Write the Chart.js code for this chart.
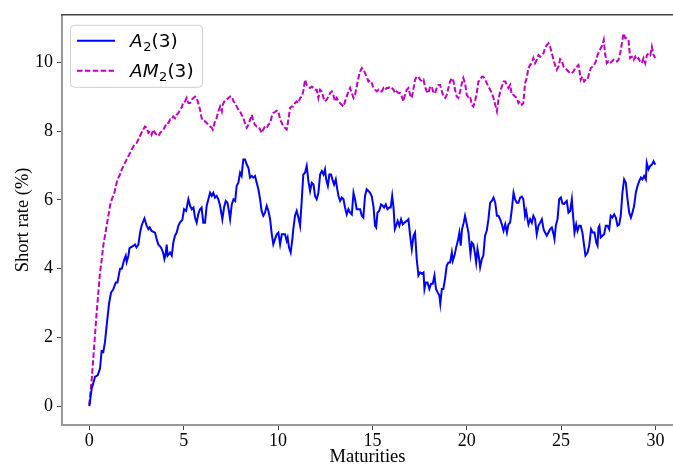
<!DOCTYPE html>
<html>
<head>
<meta charset="utf-8">
<script src="https://cdn.jsdelivr.net/npm/chart.js@4/dist/chart.umd.min.js"></script>
<style>
  html, body { margin: 0; padding: 0; background: #ffffff; }
  #wrap { width: 673px; height: 468px; position: relative; }
</style>
</head>
<body>
<div id="wrap"><canvas id="c" width="673" height="468"></canvas></div>
<script>
// ---- data ----
const maturitiesA = [0,0.125,0.3,0.45,0.57,0.65,0.74,0.83,0.92,1.05,1.15,1.27,1.4,1.49,1.63,1.72,1.86,1.93,1.98,2.07,2.13,2.33,2.42,2.5,2.6,2.69,2.77,2.92,3.04,3.13,3.2,3.3,3.48,3.57,3.66,3.75,3.84,3.92,3.98,4.04,4.1,4.15,4.28,4.37,4.45,4.54,4.63,4.72,4.8,4.93,5.02,5.13,5.25,5.34,5.43,5.52,5.6,5.69,5.77,5.87,5.95,6.04,6.13,6.22,6.31,6.4,6.49,6.57,6.66,6.75,6.84,6.93,7.05,7.14,7.23,7.32,7.41,7.46,7.55,7.64,7.73,7.81,7.9,7.99,8.07,8.16,8.25,8.34,8.43,8.52,8.61,8.69,8.78,8.87,8.96,9.05,9.13,9.22,9.31,9.4,9.49,9.58,9.67,9.75,9.84,9.93,10.02,10.11,10.2,10.28,10.37,10.46,10.51,10.58,10.67,10.76,10.81,10.9,10.99,11.08,11.17,11.26,11.34,11.43,11.52,11.61,11.7,11.79,11.88,11.96,12.05,12.14,12.23,12.32,12.41,12.49,12.55,12.64,12.72,12.81,12.88,12.97,13.06,13.11,13.2,13.29,13.38,13.47,13.55,13.64,13.73,13.82,13.91,14.0,14.08,14.17,14.26,14.35,14.44,14.52,14.61,14.7,14.79,14.88,14.97,15.06,15.14,15.2,15.27,15.36,15.46,15.55,15.62,15.71,15.8,15.89,15.97,16.05,16.12,16.19,16.26,16.34,16.43,16.52,16.61,16.7,16.82,16.91,17.0,17.09,17.18,17.26,17.35,17.44,17.53,17.62,17.71,17.76,17.83,17.92,18.02,18.11,18.2,18.29,18.37,18.46,18.55,18.6,18.68,18.76,18.85,18.94,19.03,19.12,19.21,19.26,19.35,19.44,19.53,19.61,19.68,19.75,19.84,19.91,20.0,20.09,20.2,20.27,20.35,20.44,20.5,20.57,20.66,20.71,20.8,20.88,20.97,21.06,21.15,21.24,21.33,21.42,21.51,21.6,21.68,21.77,21.86,21.95,22.04,22.13,22.21,22.3,22.39,22.48,22.56,22.65,22.74,22.83,22.92,23.0,23.09,23.15,23.22,23.27,23.36,23.45,23.53,23.62,23.71,23.8,23.89,23.98,24.07,24.15,24.24,24.33,24.42,24.51,24.6,24.65,24.72,24.81,24.9,24.99,25.07,25.16,25.21,25.3,25.39,25.48,25.57,25.62,25.71,25.8,25.87,25.96,26.04,26.13,26.22,26.29,26.4,26.49,26.59,26.68,26.77,26.86,26.93,26.98,27.03,27.1,27.19,27.28,27.37,27.46,27.55,27.63,27.72,27.81,27.9,27.99,28.08,28.16,28.25,28.34,28.43,28.52,28.61,28.7,28.78,28.87,28.96,29.05,29.14,29.23,29.31,29.4,29.49,29.54,29.63,29.72,29.81,29.9,29.99];
const shortRateA2 = [0,0.5,0.85,0.9,1.1,1.6,1.57,1.86,2.35,3.0,3.3,3.4,3.6,3.6,4.0,4.0,4.28,4.38,4.2,4.37,4.6,4.66,4.7,4.62,4.7,5.05,5.25,5.46,5.25,5.15,5.2,5.1,5.05,4.86,4.7,4.65,4.57,4.45,4.28,4.4,4.7,4.38,4.47,4.38,4.76,4.96,5.05,5.25,5.34,5.42,5.73,5.68,6.02,5.83,5.73,5.78,5.49,5.34,5.58,5.73,5.78,5.34,5.34,5.83,6.02,6.21,6.12,6.21,6.07,6.12,6.02,5.83,5.44,5.78,5.97,5.92,5.63,5.44,5.87,6.02,5.97,6.41,6.5,6.79,6.7,7.18,7.18,7.03,6.94,6.65,6.7,6.65,6.7,6.5,6.31,6.02,5.68,5.54,5.63,5.83,5.68,5.44,5.0,4.71,4.86,5.0,5.05,4.71,5.0,5.0,5.0,4.81,4.9,4.62,4.47,4.86,5.15,5.54,5.68,5.49,5.25,6.02,6.74,6.79,6.99,6.55,6.26,6.5,6.45,6.12,6.02,6.21,6.74,6.84,6.74,6.89,6.6,6.41,6.74,6.74,6.6,6.45,6.6,6.41,6.12,5.97,6.07,6.02,5.78,5.58,5.73,5.63,5.58,6.21,6.02,5.73,5.73,5.73,5.54,5.49,6.12,6.31,6.26,6.21,6.1,5.8,5.25,5.2,5.63,5.68,5.87,5.83,5.78,5.87,5.73,5.78,5.78,6.12,5.78,5.15,5.25,5.39,5.25,5.44,5.29,5.34,5.39,5.44,4.96,4.57,4.96,5.05,4.28,3.8,3.89,3.85,3.89,3.41,3.6,3.6,3.41,3.56,3.56,3.8,3.41,3.31,3.22,2.98,3.41,3.41,3.7,4.09,4.18,4.18,4.47,4.23,4.38,4.62,4.81,5.05,4.67,5.15,5.34,5.54,5.3,5.05,4.43,4.76,4.71,4.43,4.18,4.57,4.28,4.04,4.28,4.38,4.96,5.1,5.44,5.92,5.97,6.07,5.92,5.54,5.54,5.44,5.29,5.1,5.29,5.05,5.29,5.34,5.73,6.21,6.02,5.92,5.92,6.07,6.1,6.02,5.54,5.68,5.44,5.29,5.44,5.34,5.54,5.44,5.0,5.25,5.34,5.44,5.15,5.05,4.96,5.05,5.15,5.2,5.0,4.86,5.25,5.44,6.02,6.07,5.9,5.88,5.92,5.97,5.63,5.68,6.02,5.63,5.05,5.29,5.1,5.25,5.25,5.05,4.67,4.38,4.47,4.67,5.15,5.05,5.05,4.76,4.67,5.2,5.25,4.91,4.96,5.0,5.25,5.25,5.15,5.54,5.49,5.58,5.49,5.25,5.29,5.54,6.21,6.6,6.5,6.02,5.63,5.49,5.63,5.83,6.21,6.41,6.55,6.65,6.6,6.7,6.6,7.08,6.89,6.99,7.03,7.13,7.03];

const maturitiesAM = [0,0.13,0.21,0.3,0.39,0.48,0.57,0.66,0.74,0.83,0.92,1.01,1.1,1.19,1.33,1.45,1.54,1.63,1.72,1.81,1.89,1.98,2.07,2.16,2.25,2.34,2.42,2.51,2.6,2.69,2.78,2.86,2.95,3.04,3.13,3.22,3.3,3.39,3.48,3.57,3.66,3.75,3.84,3.93,4.01,4.1,4.19,4.28,4.37,4.45,4.54,4.63,4.72,4.81,4.9,4.98,5.07,5.16,5.25,5.34,5.43,5.52,5.6,5.69,5.77,5.87,5.95,6.04,6.13,6.22,6.31,6.4,6.49,6.54,6.61,6.66,6.75,6.84,6.93,7.02,7.07,7.16,7.28,7.37,7.46,7.55,7.64,7.73,7.81,7.9,7.99,8.07,8.16,8.25,8.34,8.43,8.52,8.61,8.69,8.78,8.87,8.96,9.05,9.13,9.22,9.31,9.4,9.49,9.58,9.67,9.75,9.84,9.93,10.02,10.11,10.2,10.28,10.37,10.46,10.55,10.64,10.73,10.81,10.9,10.99,11.08,11.17,11.26,11.34,11.43,11.52,11.61,11.7,11.79,11.88,11.96,12.05,12.14,12.23,12.32,12.41,12.49,12.58,12.67,12.76,12.85,12.93,13.02,13.11,13.2,13.29,13.38,13.47,13.55,13.64,13.73,13.82,13.91,14.0,14.08,14.17,14.26,14.35,14.44,14.52,14.61,14.7,14.79,14.88,14.97,15.06,15.14,15.23,15.32,15.41,15.5,15.59,15.67,15.76,15.85,15.94,16.03,16.12,16.2,16.29,16.38,16.47,16.56,16.64,16.73,16.82,16.91,17.0,17.09,17.17,17.26,17.35,17.44,17.53,17.62,17.71,17.79,17.88,17.97,18.06,18.15,18.24,18.32,18.41,18.5,18.59,18.68,18.77,18.86,18.94,19.03,19.12,19.21,19.3,19.38,19.47,19.56,19.65,19.74,19.82,19.91,20.0,20.09,20.18,20.27,20.35,20.44,20.53,20.62,20.71,20.8,20.88,20.97,21.06,21.15,21.24,21.33,21.42,21.51,21.6,21.68,21.77,21.86,21.95,22.04,22.13,22.21,22.3,22.39,22.48,22.56,22.65,22.74,22.83,22.92,23.0,23.09,23.18,23.27,23.36,23.45,23.53,23.62,23.71,23.8,23.89,23.98,24.07,24.15,24.24,24.33,24.42,24.51,24.6,24.68,24.77,24.86,24.95,25.04,25.13,25.21,25.3,25.39,25.48,25.57,25.66,25.74,25.83,25.92,25.97,26.04,26.13,26.22,26.31,26.4,26.49,26.57,26.66,26.75,26.84,26.93,27.02,27.1,27.19,27.26,27.33,27.42,27.51,27.6,27.69,27.78,27.87,27.96,28.04,28.13,28.22,28.31,28.4,28.48,28.57,28.66,28.75,28.84,28.93,29.01,29.1,29.19,29.28,29.37,29.46,29.55,29.64,29.73,29.81,29.9,29.99];
const shortRateAM2 = [0.03,0.8,1.38,2.06,2.73,3.31,3.89,4.28,4.67,4.96,5.25,5.54,5.83,6.02,6.21,6.5,6.65,6.74,6.89,6.99,7.08,7.18,7.28,7.37,7.47,7.57,7.61,7.66,7.76,7.86,7.97,8.05,8.14,8.1,7.95,8.0,7.9,8.05,7.95,7.9,7.86,7.95,8.0,8.05,8.14,8.24,8.24,8.34,8.34,8.43,8.38,8.48,8.53,8.63,8.7,8.85,8.87,8.97,8.82,8.82,8.92,8.97,9.01,8.97,8.82,8.63,8.39,8.29,8.29,8.24,8.19,8.14,8.1,8.05,8.19,8.29,8.39,8.58,8.72,8.58,8.77,8.87,8.92,8.97,9.01,9.01,8.87,8.82,8.72,8.63,8.58,8.48,8.39,8.24,8.1,8.19,8.34,8.48,8.29,8.19,8.14,8.14,8.05,7.95,8.05,8.14,8.1,8.19,8.24,8.43,8.53,8.56,8.6,8.58,8.34,8.24,8.14,8.1,8.05,8.34,8.68,8.72,8.72,8.82,8.87,8.82,8.97,9.01,9.16,9.5,9.35,9.3,9.26,9.3,9.26,9.21,9.21,8.97,9.21,9.16,8.97,8.87,8.92,9.01,9.11,9.16,9.06,8.87,8.97,8.87,8.82,8.77,8.72,8.87,9.01,9.16,9.26,9.11,8.97,9.06,9.3,9.55,9.74,9.84,9.81,9.69,9.59,9.45,9.48,9.4,9.26,9.21,9.16,9.21,9.16,9.16,9.26,9.21,9.26,9.26,9.3,9.26,9.21,9.11,9.16,9.11,9.11,9.01,8.87,9.06,9.21,9.26,9.06,8.97,9.21,9.5,9.59,9.59,9.5,9.45,9.5,9.3,9.16,9.11,9.3,9.3,9.11,9.11,9.26,9.35,9.35,9.16,9.01,8.97,9.06,9.26,9.45,9.55,9.45,9.21,9.01,8.97,9.16,9.4,9.55,9.4,9.06,8.99,9.01,8.77,8.72,8.87,9.11,9.45,9.5,9.59,9.59,9.5,9.4,9.3,9.21,9.11,8.97,8.77,8.58,8.92,9.16,9.3,9.45,9.45,9.35,9.26,9.35,9.06,9.06,9.01,8.97,8.82,8.87,8.77,8.82,9.4,9.55,9.84,9.93,9.98,10.13,9.98,10.08,10.22,10.17,10.22,10.27,10.42,10.51,10.56,10.46,10.27,10.08,9.93,9.79,9.88,10.1,10.05,9.88,9.84,9.79,9.74,9.69,9.69,9.74,9.84,9.88,9.93,9.79,9.5,9.59,9.45,9.5,9.5,9.69,9.84,9.88,9.93,10.03,10.22,10.32,10.42,10.51,10.66,10.27,9.98,10.03,9.98,10.03,10.08,10.03,10.03,10.08,10.27,10.56,10.85,10.71,10.71,10.66,10.13,10.17,10.08,10.17,10.08,10.13,10.03,9.98,10.13,9.98,10.22,10.27,10.22,10.46,10.22,10.13];

const xTickValues = [0, 5, 10, 15, 20, 25, 30];
const yTickValues = [0, 2, 4, 6, 8, 10];
const seriesLabels = ['A₂(3)', 'AM₂(3)'];
const xTitle = 'Maturities';
const yTitle = 'Short rate (%)';

// legend text pieces: [text, kind]  kind: 'i' italic, 's' subscript, 'n' normal
const legendPieces = [
  [['A', 'i'], ['2', 's'], ['(3)', 'n']],
  [['AM', 'i'], ['2', 's'], ['(3)', 'n']]
];

const toPoints = (xs, ys) => xs.map((x, i) => ({ x: x, y: ys[i] }));

const BLUE = '#0000ff';
const MAGENTA = '#bf00bf';
const DASH = [5.5, 2.4];

const frameAndLegend = {
  id: 'frameAndLegend',
  afterDatasetsDraw(chart) {
    const ctx = chart.ctx;
    const a = chart.chartArea;
    ctx.save();
    // top spine
    ctx.strokeStyle = '#444444';
    ctx.lineWidth = 1.5;
    ctx.beginPath();
    ctx.moveTo(a.left - 1, a.top);
    ctx.lineTo(a.right, a.top);
    ctx.stroke();

    // legend box
    const bx = a.left + 8, by = a.top + 10, bw = 132, bh = 62;
    ctx.fillStyle = 'rgba(255,255,255,0.8)';
    ctx.strokeStyle = '#d0d0d0';
    ctx.lineWidth = 1;
    ctx.beginPath();
    ctx.roundRect(bx + 0.5, by + 0.5, bw, bh, 4);
    ctx.fill();
    ctx.stroke();

    const ds = chart.data.datasets;
    const rowsY = [by + 16, by + 46];
    ds.forEach((d, i) => {
      const y = rowsY[i];
      ctx.strokeStyle = d.borderColor;
      ctx.lineWidth = d.borderWidth;
      ctx.setLineDash(d.borderDash || []);
      ctx.beginPath();
      ctx.moveTo(bx + 7, y);
      ctx.lineTo(bx + 45, y);
      ctx.stroke();
      ctx.setLineDash([]);
      let tx = bx + 60;
      ctx.fillStyle = '#000000';
      ctx.textBaseline = 'alphabetic';
      ctx.textAlign = 'left';
      const base = y + 6.5;
      legendPieces[i].forEach(([t, k]) => {
        if (k === 'i') {
          ctx.font = 'oblique 18.5px "DejaVu Sans"';
          ctx.fillText(t, tx, base);
        } else if (k === 's') {
          ctx.font = '13px "DejaVu Sans"';
          ctx.fillText(t, tx, base + 4);
        } else {
          ctx.font = '18.5px "DejaVu Sans"';
          ctx.fillText(t, tx, base);
        }
        tx += ctx.measureText(t).width + (k === 'i' ? 0.5 : 0);
      });
    });
    ctx.restore();
  }
};

const serif = '"Liberation Serif", "Times New Roman", serif';

new Chart(document.getElementById('c'), {
  type: 'line',
  data: {
    datasets: [
      {
        label: seriesLabels[0],
        data: toPoints(maturitiesA, shortRateA2),
        borderColor: BLUE,
        borderWidth: 2,
        pointRadius: 0,
        tension: 0,
        fill: false
      },
      {
        label: seriesLabels[1],
        data: toPoints(maturitiesAM, shortRateAM2),
        borderColor: MAGENTA,
        borderWidth: 2,
        borderDash: DASH,
        pointRadius: 0,
        tension: 0,
        fill: false
      }
    ]
  },
  options: {
    responsive: false,
    animation: false,
    devicePixelRatio: 1,
    layout: { padding: { top: 13, left: 0, right: 0, bottom: 0 } },
    plugins: { legend: { display: false }, tooltip: { enabled: false } },
    scales: {
      x: {
        type: 'linear',
        min: -1.447,
        max: 30.93,
        afterFit(s) { s.height = 43; },
        afterBuildTicks(s) { s.ticks = xTickValues.map(v => ({ value: v })); },
        ticks: { font: { family: serif, size: 18 }, color: '#000', padding: 0, maxRotation: 0 },
        grid: { display: true, drawOnChartArea: false, drawTicks: true, tickLength: 5, color: '#444' },
        border: { display: true, color: '#999999', width: 2 },
        title: { display: true, text: xTitle, font: { family: serif, size: 18.5 }, color: '#000', padding: { top: 0, bottom: 0 } }
      },
      y: {
        type: 'linear',
        min: -0.551,
        max: 11.39,
        afterFit(s) { s.width = 62; },
        afterBuildTicks(s) { s.ticks = yTickValues.map(v => ({ value: v })); },
        ticks: { font: { family: serif, size: 18 }, color: '#000', padding: 4 },
        grid: { display: true, drawOnChartArea: false, drawTicks: true, tickLength: 5, color: '#444' },
        border: { display: true, color: '#999999', width: 2 },
        title: { display: true, text: yTitle, font: { family: serif, size: 18.5 }, color: '#000', padding: { top: 12, bottom: 0 } }
      }
    }
  },
  plugins: [frameAndLegend]
});
</script>
</body>
</html>
